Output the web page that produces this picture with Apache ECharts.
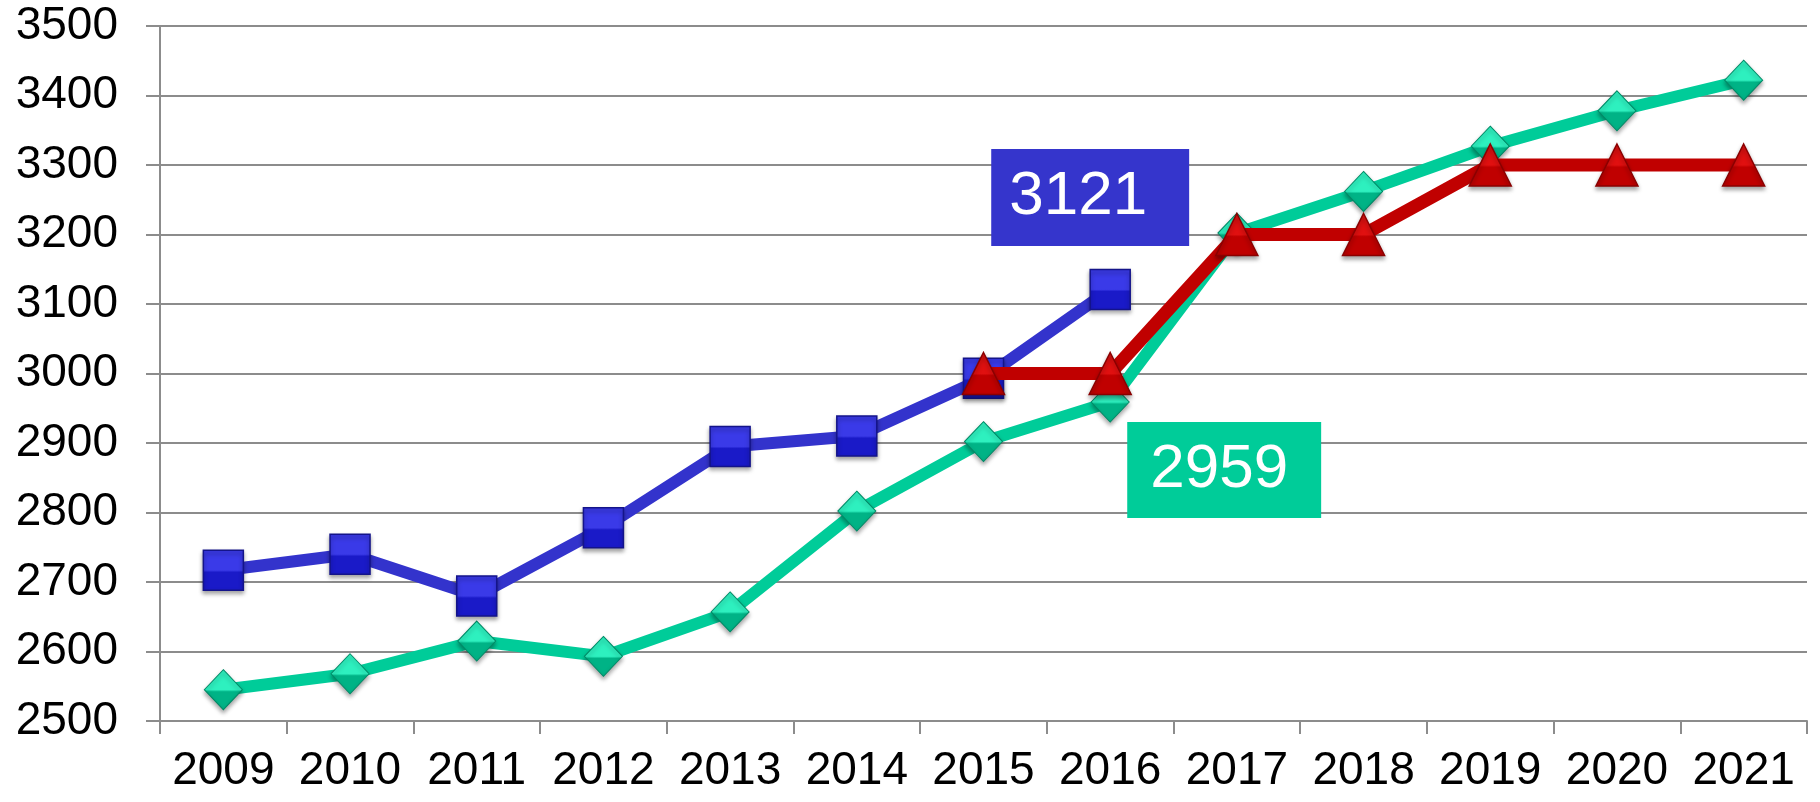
<!DOCTYPE html>
<html>
<head>
<meta charset="utf-8">
<script src="https://cdn.jsdelivr.net/npm/echarts@6/dist/echarts.min.js"></script>
<style>
  html, body { margin: 0; padding: 0; background: #fff; }
  #main { width: 1820px; height: 802px; }
</style>
</head>
<body>
<div id="main"></div>
<script>
var years = ['2009', '2010', '2011', '2012', '2013', '2014', '2015', '2016', '2017', '2018', '2019', '2020', '2021'];
var blueVals = [2717, 2740, 2680, 2778, 2895, 2910, 2993, 3121, null, null, null, null, null];
var greenVals = [2545, 2568, 2615, 2593, 2657, 2802, 2902, 2959, 3202, 3262, 3327, 3378, 3422];
var redVals = [null, null, null, null, null, null, 3000, 3000, 3200, 3200, 3300, 3300, 3300];

function grad(light, dark) {
    return new echarts.graphic.LinearGradient(0, 0, 0, 1, [
        { offset: 0, color: light },
        { offset: 0.5, color: light },
        { offset: 0.55, color: dark },
        { offset: 1, color: dark }
    ]);
}

// label only on the 2016 point
function withLabel(vals, idx, label) {
    return vals.map(function (v, i) {
        if (i === idx) return { value: v, label: label };
        return v;
    });
}

var myChart = echarts.init(document.getElementById('main'));

var option = {
    animation: false,
    backgroundColor: '#fff',
    grid: { left: 160, right: 13, top: 26, bottom: 81 },
    xAxis: {
        type: 'category',
        data: years,
        boundaryGap: true,
        axisLine: { lineStyle: { color: '#8c8c8c', width: 2 } },
        axisTick: { show: true, length: 13, lineStyle: { color: '#8c8c8c', width: 2 } },
        axisLabel: { interval: 0, color: '#000', fontSize: 46, fontFamily: 'Liberation Sans', margin: 27 }
    },
    yAxis: {
        type: 'value',
        min: 2500,
        max: 3500,
        interval: 100,
        axisLine: { show: true, lineStyle: { color: '#8c8c8c', width: 2 } },
        axisTick: { show: true, length: 14, lineStyle: { color: '#8c8c8c', width: 2 } },
        axisLabel: {
            color: '#000', fontSize: 46, fontFamily: 'Liberation Sans', margin: 42,
            formatter: function (v) { return String(v); }
        },
        splitLine: { lineStyle: { color: '#8c8c8c', width: 2 } }
    },
    series: [
        {
            name: 'green',
            type: 'line',
            z: 2,
            data: withLabel(greenVals, 7, {
                show: true,
                position: 'inside',
                offset: [114, 68],
                formatter: '{c}',
                color: '#fff',
                fontSize: 62,
                fontFamily: 'Liberation Sans',
                backgroundColor: '#00cc99',
                padding: [17, 33, 17, 23]
            }),
            symbol: 'diamond',
            symbolSize: [38, 40],
            lineStyle: { color: '#00cc99', width: 12 },
            itemStyle: {
                color: grad('#2ef0bf', '#00b386'),
                borderColor: '#008a66',
                borderWidth: 1,
                shadowColor: 'rgba(0,0,0,0.35)',
                shadowBlur: 4,
                shadowOffsetY: 3
            }
        },
        {
            name: 'blue',
            type: 'line',
            z: 3,
            data: withLabel(blueVals, 7, {
                show: true,
                position: 'inside',
                offset: [-20, -92],
                formatter: '{c}',
                color: '#fff',
                fontSize: 62,
                fontFamily: 'Liberation Sans',
                backgroundColor: '#3535cc',
                padding: [17, 42, 18, 18]
            }),
            symbol: 'rect',
            symbolSize: 40,
            lineStyle: { color: '#3333cc', width: 12 },
            itemStyle: {
                color: grad('#3a3ae8', '#1a1ac8'),
                borderColor: '#14148a',
                borderWidth: 1.5,
                shadowColor: 'rgba(0,0,0,0.35)',
                shadowBlur: 4,
                shadowOffsetY: 3
            }
        },
        {
            name: 'red',
            type: 'line',
            z: 4,
            data: redVals,
            symbol: 'triangle',
            symbolSize: [42, 42],
            lineStyle: { color: '#c00000', width: 13 },
            itemStyle: {
                color: grad('#e01010', '#c00000'),
                borderColor: '#8a0000',
                borderWidth: 1.5,
                shadowColor: 'rgba(0,0,0,0.35)',
                shadowBlur: 4,
                shadowOffsetY: 3
            }
        }
    ]
};

myChart.setOption(option);
</script>
</body>
</html>
